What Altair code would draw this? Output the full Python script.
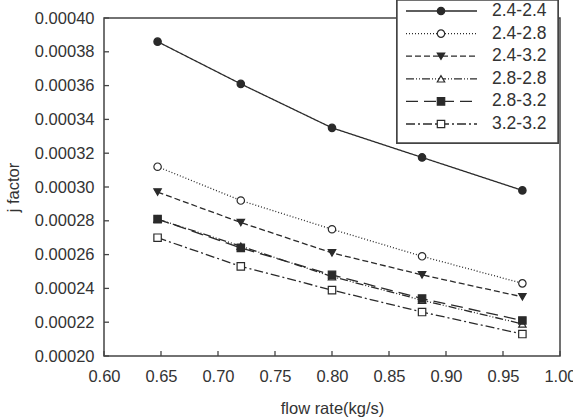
import altair as alt
import pandas as pd

# Flow rate (kg/s) at which each configuration was measured
flow_rate = [0.647, 0.720, 0.800, 0.879, 0.967]

series_names = ["2.4-2.4", "2.4-2.8", "2.4-3.2", "2.8-2.8", "2.8-3.2", "3.2-3.2"]

# Colburn j factor for each configuration
j_24_24 = [0.000386, 0.000361, 0.000335, 0.0003175, 0.000298]
j_24_28 = [0.000312, 0.000292, 0.000275, 0.000259, 0.000243]
j_24_32 = [0.000297, 0.000279, 0.000261, 0.000248, 0.000235]
j_28_28 = [0.000281, 0.000265, 0.000247, 0.000233, 0.000219]
j_28_32 = [0.000281, 0.000264, 0.000248, 0.000234, 0.000221]
j_32_32 = [0.000270, 0.000253, 0.000239, 0.000226, 0.000213]

x_ticks = [0.60, 0.65, 0.70, 0.75, 0.80, 0.85, 0.90, 0.95, 1.00]
y_ticks = [0.00020, 0.00022, 0.00024, 0.00026, 0.00028, 0.00030,
           0.00032, 0.00034, 0.00036, 0.00038, 0.00040]

series_values = [j_24_24, j_24_28, j_24_32, j_28_28, j_28_32, j_32_32]
rows = []
for name, vals in zip(series_names, series_values):
    for fr, j in zip(flow_rate, vals):
        rows.append({"series": name, "flow": fr, "j": j})
df = pd.DataFrame(rows)

W, H = 456, 338
INK = "#2a2a2a"
TEXT = "#333"
FONT = "Liberation Sans"
LABEL_SIZE = 16.5

x_scale = alt.Scale(domain=[0.6, 1.0], nice=False, zero=False)
y_scale = alt.Scale(domain=[0.0002, 0.0004], nice=False, zero=False)

x_axis = alt.Axis(values=x_ticks, format=".2f", ticks=False, domain=False, grid=False,
                  labelOverlap=False, labelFlush=False,
                  labelPadding=12, labelFontSize=LABEL_SIZE, labelColor=TEXT, labelFont=FONT,
                  title="flow rate(kg/s)", titleFontSize=LABEL_SIZE, titleFontWeight="normal",
                  titleColor=TEXT, titleFont=FONT, titlePadding=16)
y_axis = alt.Axis(values=y_ticks, format=".5f", ticks=False, domain=False, grid=False,
                  labelOverlap=False, labelFlush=False,
                  labelPadding=10, labelFontSize=LABEL_SIZE, labelColor=TEXT, labelFont=FONT,
                  title="j factor", titleFontSize=LABEL_SIZE, titleFontWeight="normal",
                  titleColor=TEXT, titleFont=FONT, titlePadding=13)

dash_scale = alt.Scale(domain=series_names,
                       range=[[1, 0], [1, 2], [6, 3], [8, 2, 1, 2, 1, 2], [12, 6], [9, 3, 2, 3]])
shape_scale = alt.Scale(domain=series_names,
                        range=["circle", "circle", "triangle-down", "triangle-up", "square", "square"])
fill_scale = alt.Scale(domain=series_names,
                       range=[INK, "white", INK, "white", INK, "white"])

lines = alt.Chart(df).mark_line(color=INK, strokeWidth=1.3).encode(
    x=alt.X("flow:Q", scale=x_scale, axis=x_axis),
    y=alt.Y("j:Q", scale=y_scale, axis=y_axis),
    strokeDash=alt.StrokeDash("series:N", scale=dash_scale, legend=None),
)

points = alt.Chart(df).mark_point(filled=True, stroke=INK, strokeWidth=1.2, size=55, opacity=1).encode(
    x=alt.X("flow:Q", scale=x_scale, axis=x_axis),
    y=alt.Y("j:Q", scale=y_scale, axis=y_axis),
    shape=alt.Shape("series:N", scale=shape_scale, legend=None),
    fill=alt.Fill("series:N", scale=fill_scale, legend=None),
)

# Inward-pointing tick marks
y_tick_df = pd.DataFrame({"v": y_ticks})
x_tick_df = pd.DataFrame({"v": x_ticks})
y_tick_marks = alt.Chart(y_tick_df).mark_rule(color="#444", strokeWidth=1.3).encode(
    y=alt.Y("v:Q", scale=y_scale, axis=y_axis), x=alt.value(0), x2=alt.value(5))
x_tick_marks = alt.Chart(x_tick_df).mark_rule(color="#444", strokeWidth=1.3).encode(
    x=alt.X("v:Q", scale=x_scale, axis=x_axis), y=alt.value(H), y2=alt.value(H - 5))

main = alt.layer(lines, points, y_tick_marks, x_tick_marks)

# Legend box drawn over the top-right corner
leg_df = pd.DataFrame({"series": series_names})
leg_y = alt.Scale(type="point", domain=series_names, range=[-7, 106], padding=0)

leg_box = alt.Chart(leg_df).mark_rect(fill="white", stroke="#444", strokeWidth=1.4).encode(
    x=alt.value(293), x2=alt.value(454), y=alt.value(-18), y2=alt.value(125))
leg_lines = alt.Chart(leg_df).mark_rule(color=INK, strokeWidth=1.3).encode(
    x=alt.value(302), x2=alt.value(373),
    y=alt.Y("series:N", scale=leg_y, axis=None),
    strokeDash=alt.StrokeDash("series:N", scale=dash_scale, legend=None))
leg_points = alt.Chart(leg_df).mark_point(filled=True, stroke=INK, strokeWidth=1.2, size=55, opacity=1).encode(
    x=alt.value(337),
    y=alt.Y("series:N", scale=leg_y, axis=None),
    shape=alt.Shape("series:N", scale=shape_scale, legend=None),
    fill=alt.Fill("series:N", scale=fill_scale, legend=None))
leg_text = alt.Chart(leg_df).mark_text(align="left", baseline="middle", fontSize=17.5,
                                       font=FONT, color=TEXT).encode(
    x=alt.value(388),
    y=alt.Y("series:N", scale=leg_y, axis=None),
    text="series:N")

legend = alt.layer(leg_box, leg_lines, leg_points, leg_text)

chart = alt.layer(main, legend).resolve_scale(y="independent").properties(
    width=W, height=H,
    autosize="none",
    padding={"left": 104, "top": 18, "right": 13, "bottom": 61},
).configure_view(stroke="#444", strokeWidth=1.5)

chart.save("out.html", embed_options={"renderer": "svg", "actions": False})
